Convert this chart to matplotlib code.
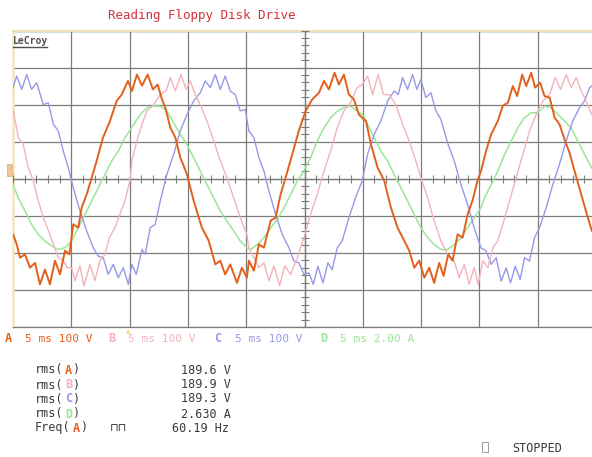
import numpy as np
import matplotlib.pyplot as plt
from matplotlib.patches import Rectangle
from matplotlib.lines import Line2D

t_a = [0.0, 0.32, 0.60, 1.03, 1.46, 1.89, 2.31, 2.74, 3.17, 3.60, 4.03, 4.46, 4.83, 5.17, 5.60,
       5.89, 6.32, 6.75, 7.18, 7.72, 8.32, 8.89, 9.32, 9.86, 10.20, 10.63, 11.06, 11.55, 12.00,
       12.41, 12.78, 13.06, 13.49, 13.92, 14.35, 14.92, 15.49, 16.20, 16.78, 17.35, 17.77, 18.20,
       18.63, 19.21, 19.63, 20.06, 20.23, 20.66, 21.09, 21.52, 22.10, 22.52, 22.95, 23.38, 23.95,
       24.52, 25.10, 25.66, 26.24, 26.67, 27.09, 27.58, 27.95, 28.38, 28.81, 29.24, 29.67, 30.10,
       30.27, 30.70, 31.27, 31.84, 32.41, 32.98, 33.55, 33.98, 34.41, 34.84, 35.27, 35.70, 36.12,
       36.55, 36.93, 37.32, 37.70, 38.13, 38.56, 38.99, 39.41, 39.84, 40.15, 40.58, 41.01, 41.58,
       42.01, 42.44, 42.87, 43.24, 43.67, 44.01, 44.44, 44.78, 45.21, 45.59, 46.02, 46.45, 46.87,
       47.35, 47.73, 48.16, 48.73, 49.30, 49.64]
v_a = [-150, -177, -213, -204, -240, -227, -285, -245, -285, -221, -258, -194, -204, -123, -132,
       -78, -42, 3, 49, 111, 156, 210, 227, 264, 237, 281, 251, 281, 241,
       254, 214, 192, 138, 111, 57, 12, -59, -132, -167, -231, -221, -258,
       -231, -281, -240, -267, -221, -248, -177, -186, -113, -105, -42, 3, 66,
       130, 183, 214, 232, 264, 241, 286, 254, 281, 227, 214, 173, 160,
       156, 93, 30, -5, -78, -132, -167, -194, -240, -221, -267, -240, -281,
       -227, -262, -204, -221, -150, -159, -96, -59, -5, 22, 76, 120, 156,
       197, 205, 250, 223, 281, 250, 286, 246, 259, 223, 219, 165, 147,
       102, 70, 21, -42, -105, -140]

# channel B (volts)
t_b = [0.03, 0.45, 0.88, 1.31, 1.74, 2.17, 2.60, 3.03, 3.46, 3.88, 4.31, 4.66, 5.03, 5.32, 5.74,
       6.09, 6.60, 7.03, 7.46, 7.89, 8.26, 8.75, 9.17, 9.60, 10.03, 10.20, 10.63, 11.06, 11.49,
       12.06, 12.63, 13.14, 13.49, 13.92, 14.40, 14.86, 15.20, 15.63, 16.06, 16.63, 17.21, 17.77,
       18.35, 18.92, 19.49, 20.06, 20.23, 20.66, 21.09, 21.52, 21.95, 22.38, 22.87, 23.30, 23.81,
       24.38, 24.95, 25.52, 26.09, 26.67, 27.24, 27.81, 28.38, 28.95, 29.52, 29.95, 30.41, 30.84,
       31.32, 31.78, 32.26, 32.84, 33.41, 33.98, 34.55, 34.98, 35.56, 36.12, 36.70, 37.27, 37.84,
       38.27, 38.70, 39.12, 39.55, 39.90, 40.30, 40.73, 41.16, 41.58, 42.01, 42.59, 43.15, 43.73,
       44.30, 44.87, 45.44, 46.02, 46.50, 46.96, 47.44, 47.87, 48.30, 48.73, 49.16, 49.64]
v_b = [183, 111, 93, 30, -5, -59, -105, -140, -177, -213, -221, -240, -240, -275, -235,
       -289, -231, -275, -221, -204, -159, -132, -96, -59, -5, 49, 103, 147, 183,
       200, 227, 237, 273, 237, 281, 241, 264, 227, 200, 156, 103, 49,
       3, -51, -105, -150, -186, -213, -240, -227, -275, -235, -289, -235, -258,
       -213, -159, -96, -42, 21, 75, 138, 183, 205, 246, 254, 277, 227,
       281, 227, 227, 200, 147, 102, 48, 3, -51, -114, -168, -204, -222,
       -267, -231, -285, -240, -285, -221, -240, -186, -167, -123, -59, 3, 66,
       129, 173, 210, 227, 273, 241, 281, 246, 273, 237, 210, 173]

# channel C (volts)
t_c = [0.0, 0.32, 0.75, 1.17, 1.60, 2.03, 2.60, 3.03, 3.46, 3.88, 4.31, 4.74, 5.17, 5.74, 6.32,
       6.88, 7.31, 7.74, 8.17, 8.60, 9.03, 9.46, 9.89, 10.20, 10.57, 11.06, 11.34, 11.77, 12.20,
       12.63, 13.20, 13.78, 14.34, 14.92, 15.49, 16.06, 16.49, 16.92, 17.35, 17.77, 18.20, 18.63,
       19.06, 19.49, 19.92, 20.23, 20.66, 21.09, 21.52, 21.95, 22.52, 23.09, 23.66, 24.09, 24.52,
       24.95, 25.38, 25.75, 26.15, 26.58, 27.01, 27.38, 27.81, 28.23, 28.81, 29.38, 29.95, 30.41,
       30.98, 31.55, 32.13, 32.69, 33.04, 33.41, 33.84, 34.27, 34.64, 34.98, 35.41, 35.84, 36.27,
       36.70, 37.27, 37.84, 38.41, 38.99, 39.55, 40.13, 40.58, 41.01, 41.44, 41.87, 42.30, 42.67,
       43.07, 43.50, 43.87, 44.30, 44.73, 45.16, 45.73, 46.30, 46.87, 47.44, 48.01, 48.59, 49.02,
       49.45, 49.64]
v_c = [246, 277, 241, 281, 241, 259, 200, 205, 147, 129, 75, 30, -24, -87, -141,
       -186, -209, -213, -258, -231, -267, -240, -285, -231, -258, -191, -204, -132, -123,
       -60, 12, 66, 129, 173, 210, 232, 264, 246, 281, 241, 277, 237,
       227, 183, 187, 129, 111, 57, 21, -33, -96, -150, -186, -222, -227,
       -258, -254, -285, -236, -281, -227, -245, -186, -168, -105, -51, -6, 66,
       120, 156, 210, 237, 227, 273, 241, 281, 241, 268, 219, 232, 183,
       160, 97, 48, -15, -69, -132, -186, -195, -231, -213, -276, -240, -281,
       -236, -272, -213, -222, -159, -132, -78, -15, 39, 102, 156, 192, 210,
       246, 250]

# channel D (amps)
t_d = [0.0, 0.45, 1.03, 1.60, 2.17, 2.74, 3.32, 3.88, 4.46, 5.03, 5.60, 6.17, 6.75, 7.31, 7.89,
       8.46, 9.03, 9.60, 10.35, 10.92, 11.49, 12.06, 12.63, 13.20, 13.78, 14.34, 14.92, 15.49,
       16.06, 16.63, 17.21, 17.77, 18.35, 18.92, 19.49, 20.06, 20.38, 20.95, 21.52, 22.10, 22.66,
       23.24, 23.81, 24.38, 24.95, 25.52, 26.09, 26.67, 27.24, 27.81, 28.38, 28.95, 29.52, 30.10,
       30.41, 30.98, 31.55, 32.13, 32.69, 33.27, 33.84, 34.41, 34.98, 35.56, 36.12, 36.70, 37.27,
       37.84, 38.41, 38.99, 39.55, 40.13, 40.44, 41.01, 41.58, 42.16, 42.73, 43.30, 43.87, 44.44,
       45.01, 45.59, 46.16, 46.73, 47.30, 47.87, 48.44, 49.02, 49.64]
i_d = [-0.31, -1.03, -1.74, -2.47, -3.01, -3.36, -3.63, -3.82, -3.72, -3.36, -2.64, -1.93, -1.20,
       -0.49, 0.23, 0.96, 1.49, 2.21, 2.93, 3.47, 3.83, 3.92, 3.92, 3.65, 3.02, 2.39, 1.85, 1.13,
       0.42, -0.31, -1.03, -1.74, -2.28, -2.82, -3.36, -3.72, -3.82, -3.55, -3.18, -2.64, -2.20,
       -1.57, -0.85, -0.12, 0.42, 1.13, 2.03, 2.75, 3.29, 3.65, 3.83, 3.92, 3.65, 3.38,
       2.93, 2.21, 1.49, 0.96, 0.23, -0.49, -1.20, -1.93, -2.64, -3.18, -3.55, -3.82, -3.82,
       -3.55, -3.18, -2.64, -2.10, -1.57, -1.03, -0.31, 0.42, 1.31, 2.03, 2.75, 3.29, 3.56,
       3.56, 3.92, 3.83, 3.47, 3.11, 2.75, 2.03, 1.31, 0.59]

volts_per_div = 100
amps_per_div = 2.0
ms_per_div = 5

labels = ['A', 'B', 'C', 'D']
scales = ['5 ms 100 V', '5 ms 100 V', '5 ms 100 V', '5 ms 2.00 A']
rms_vals = ['189.6 V', '189.9 V', '189.3 V', '2.630 A']
freq_val = '60.19 Hz'

ORANGE = '#e2601c'
PINK = '#f4b2ba'
BLUE = '#9898e8'
GREEN = '#98e698'
colors = [ORANGE, PINK, BLUE, GREEN]
GRIDC = '#7c7c7c'
TXT = '#3a3a3a'
MONO = 'DejaVu Sans Mono'

W, H = 592, 457
fig = plt.figure(figsize=(W / 100, H / 100), dpi=100)
fig.patch.set_facecolor('white')

def fx(px):
    return px / W

def fy(py):
    return 1 - py / H

rect = [fx(13), fy(327), fx(592) - fx(13), fy(30.5) - fy(327)]
xmax = (592 - 13) / 58.3 * ms_per_div

# grid + border
ax = fig.add_axes(rect)
ax.set_xlim(0, xmax)
ax.set_ylim(-4, 4)
ax.set_xticks(np.arange(0, 50, ms_per_div))
ax.set_yticks(np.arange(-4, 5, 1))
ax.grid(True, color=GRIDC, lw=0.9)
ax.tick_params(length=0, labelbottom=False, labelleft=False)
ax.spines['right'].set_visible(False)
ax.spines['left'].set_color('#f3e8c4')
ax.spines['left'].set_linewidth(1.8)
ax.spines['top'].set_color('#eedfb6')
ax.spines['top'].set_linewidth(1.5)
ax.spines['bottom'].set_color(GRIDC)
ax.spines['bottom'].set_linewidth(0.9)
ax.axhline(3.96, color='#dff0f6', lw=1.0, zorder=1)

# centre cross with minor ticks, traces on top
ax2 = fig.add_axes(rect, facecolor='none')
ax2.set_xlim(0, xmax)
ax2.set_ylim(-4, 4)
ax2.spines['left'].set_position(('data', 5 * ms_per_div))
ax2.spines['bottom'].set_position(('data', 0))
for s in ['top', 'right']:
    ax2.spines[s].set_visible(False)
for s in ['left', 'bottom']:
    ax2.spines[s].set_color(GRIDC)
    ax2.spines[s].set_linewidth(0.9)
ax2.set_xticks(np.arange(0, 50, 1))
ax2.set_yticks(np.arange(-4, 4.01, 0.2))
ax2.tick_params(direction='inout', length=5.5, width=0.8, color=GRIDC,
                labelbottom=False, labelleft=False)

ax2.plot(t_d, np.array(i_d) / amps_per_div, color=GREEN, lw=1.1, zorder=3)
ax2.plot(t_c, np.array(v_c) / volts_per_div, color=BLUE, lw=1.0, zorder=3)
ax2.plot(t_b, np.array(v_b) / volts_per_div, color=PINK, lw=1.0, zorder=3)
ax2.plot(t_a, np.array(v_a) / volts_per_div, color=ORANGE, lw=1.4, zorder=4)

# title and logo
fig.text(fx(202), fy(15), 'Reading Floppy Disk Drive', color='#d4303c',
         fontsize=9, family=MONO, ha='center', va='center')
fig.text(fx(13), fy(41), 'LeCroy', color='#505050', fontsize=7, weight='bold',
         family=MONO, va='center')
fig.add_artist(Line2D([fx(13), fx(47)], [fy(47), fy(47)], color='#505050', lw=1))
fig.add_artist(Rectangle((fx(7), fy(176)), fx(5), fy(164) - fy(176),
                         facecolor='#ecc79a', edgecolor='#d8a870', lw=0.5))
fig.text(fx(128), fy(332), '▲', color='#f0e070', fontsize=4, ha='center', va='center')

# channel row
row_y = fy(339)
lab_x = [5, 108, 214, 320]
sc_x = [25, 128, 235, 340]
for k in range(4):
    fig.text(fx(lab_x[k]), row_y, labels[k], color=colors[k], fontsize=8.5,
             weight='bold', family=MONO, va='center')
    fig.text(fx(sc_x[k]), row_y, scales[k], color=colors[k], fontsize=8,
             family=MONO, va='center')

# measurements
cw = 7.5
ys = [370, 385, 399, 414, 428]
for k in range(4):
    fig.text(fx(35), fy(ys[k]), 'rms(', color=TXT, fontsize=8.5, family=MONO, va='center')
    fig.text(fx(35 + 4 * cw), fy(ys[k]), labels[k], color=colors[k], fontsize=8.5,
             weight='bold', family=MONO, va='center')
    fig.text(fx(35 + 5 * cw), fy(ys[k]), ')', color=TXT, fontsize=8.5, family=MONO, va='center')
    fig.text(fx(231), fy(ys[k]), rms_vals[k], color=TXT, fontsize=8.5, family=MONO,
             ha='right', va='center')
fig.text(fx(35), fy(ys[4]), 'Freq(', color=TXT, fontsize=8.5, family=MONO, va='center')
fig.text(fx(35 + 5 * cw), fy(ys[4]), 'A', color=ORANGE, fontsize=8.5, weight='bold',
         family=MONO, va='center')
fig.text(fx(35 + 6 * cw), fy(ys[4]), ')', color=TXT, fontsize=8.5, family=MONO, va='center')
fig.text(fx(110), fy(ys[4]), '⊓⊓', color=TXT, fontsize=8, family=['DejaVu Sans'], va='center')
fig.text(fx(229), fy(ys[4]), freq_val, color=TXT, fontsize=8.5, family=MONO,
         ha='right', va='center')

fig.add_artist(Rectangle((fx(482), fy(452)), fx(6), fy(442) - fy(452),
                         facecolor='none', edgecolor='#9a9a9a', lw=0.7))
fig.text(fx(512), fy(448), 'STOPPED', color=TXT, fontsize=8.5, family=MONO, va='center')

fig.savefig('out.png', dpi=100)
